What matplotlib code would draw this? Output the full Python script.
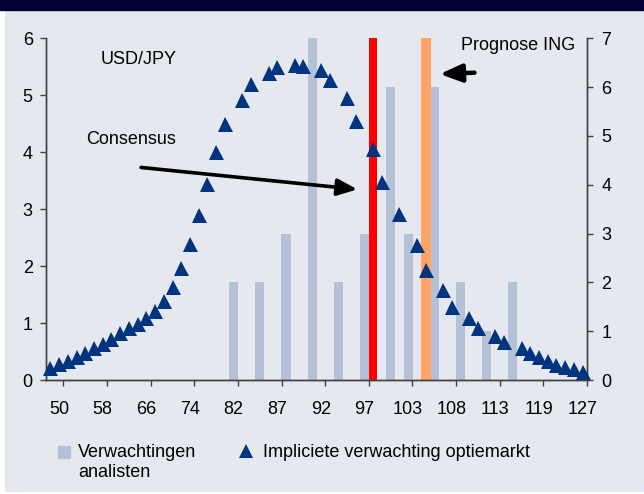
import numpy as np
import matplotlib.pyplot as plt
from matplotlib.patches import Rectangle
from matplotlib.lines import Line2D

plt.rcParams['font.family'] = ['Liberation Sans', 'DejaVu Sans']
plt.rcParams['font.size'] = 13

# category axis: 62 price levels, every 5th one labelled
label_cats = [1, 6, 11, 16, 21, 26, 31, 36, 41, 46, 51, 56, 61]
label_text = ['50', '58', '66', '74', '82', '87', '92', '97', '103', '108', '113', '119', '127']

# analysts' forecasts (right axis)
analyst_cats = [21, 24, 27, 30, 33, 36, 39, 41, 44, 47, 50, 53]
analyst_vals = [2, 2, 3, 7, 2, 3, 6, 3, 6, 2, 1, 2]

# consensus and ING forecast markers (right axis, full height)
consensus_cat = 37
ing_cat = 43
marker_height = 7

# implied distribution from option market (left axis), None where analyst bars sit
implied = [0.21, 0.28, 0.34, 0.40, 0.47, 0.56, 0.64, 0.72, 0.82, 0.91,
           0.99, 1.09, 1.22, 1.39, 1.64, 1.96, 2.39, 2.89, 3.45, 4.01,
           4.50, None, 4.91, 5.20, None, 5.39, 5.49, None, 5.53, 5.51,
           None, 5.44, 5.26, None, 4.96, 4.55, None, 4.05, 3.48, None,
           2.91, None, 2.37, 1.93, None, 1.58, 1.29, None, 1.08, 0.91,
           None, 0.78, 0.67, None, 0.56, 0.47, 0.40, 0.33, 0.27, 0.23,
           0.19, 0.14]

BG = '#E5E8EE'
NAVY = '#003380'
BAR = '#B4C1D7'
SPINE = '#404040'

W, H = 644, 494
fig = plt.figure(figsize=(W / 100, H / 100), dpi=100)
fig.patch.set_facecolor('white')

def fx(x):
    return x / W

def fy(y):
    return 1 - y / H

# panel background and dark title band
fig.patches.append(Rectangle((fx(5), fy(491)), 1 - fx(5), fy(10) - fy(491),
                             transform=fig.transFigure, color=BG, zorder=-2))
fig.patches.append(Rectangle((0, fy(10)), 1, 1 - fy(10),
                             transform=fig.transFigure, color='#000033', zorder=-2))

ax = fig.add_axes([fx(46), fy(380), fx(587) - fx(46), fy(38.3) - fy(380)])
ax2 = ax.twinx()
ax2.set_zorder(1)
ax.set_zorder(2)
ax.patch.set_visible(False)
ax2.patch.set_visible(False)

ax2.bar(analyst_cats, analyst_vals, width=1.05, color=BAR, zorder=1)
ax2.bar([consensus_cat], [marker_height], width=0.86, color='#FF0000', zorder=2)
ax2.bar([ing_cat], [marker_height], width=1.15, color='#FFA366', zorder=2)

cats = np.arange(len(implied))
vals = np.array([np.nan if v is None else v for v in implied])
ax.plot(cats, vals, linestyle='none', marker='^', markersize=10.8,
        color=NAVY, markeredgewidth=0, clip_on=False, zorder=3)

for a in (ax, ax2):
    a.set_xlim(-0.5, len(implied) - 0.5)
    a.spines['top'].set_visible(False)
    for s in ('left', 'right', 'bottom'):
        a.spines[s].set_color(SPINE)
        a.spines[s].set_linewidth(1)

ax.set_ylim(0, 6)
ax2.set_ylim(0, 7)
ax.set_yticks(range(0, 7))
ax2.set_yticks(range(0, 8))
ax.tick_params(axis='y', direction='out', length=4, width=1, color=SPINE, pad=5.5)
ax2.tick_params(axis='y', direction='out', length=4, width=1, color=SPINE, pad=6.5)

# tick marks between categories, labels on the categories
ax.set_xticks([c + 0.5 for c in label_cats])
ax.set_xticklabels([])
ax.set_xticks(label_cats, minor=True)
ax.set_xticklabels(label_text, minor=True)
ax.tick_params(axis='x', which='major', direction='out', length=4, width=1, color=SPINE)
ax.tick_params(axis='x', which='minor', length=0, pad=15)
ax2.tick_params(axis='x', which='both', length=0, labelbottom=False)

ax.text(0.1717, 0.9365, 'USD/JPY', transform=ax.transAxes, ha='center', va='center')
ax.text(0.1575, 0.7024, 'Consensus', transform=ax.transAxes, ha='center', va='center')
ax.text(0.8725, 0.980, 'Prognose ING', transform=ax.transAxes, ha='center', va='center')

ax.annotate('', xy=(0.5754, 0.558), xytext=(0.1758, 0.622),
            xycoords='axes fraction', textcoords='axes fraction',
            arrowprops=dict(arrowstyle='-|>,head_length=1.0,head_width=0.42',
                            mutation_scale=12, lw=2.6, color='black',
                            shrinkA=0, shrinkB=0), zorder=5)
ax.annotate('', xy=(0.7279, 0.8955), xytext=(0.792, 0.8993),
            xycoords='axes fraction', textcoords='axes fraction',
            arrowprops=dict(arrowstyle='-|>,head_length=1.1,head_width=0.45',
                            mutation_scale=12, lw=3.2, color='black',
                            shrinkA=0, shrinkB=0), zorder=5)

# legend below the chart
fig.patches.append(Rectangle((fx(57.5), fy(458)), fx(12.5), fy(446) - fy(458),
                             transform=fig.transFigure, color=BAR, zorder=2))
fig.text(fx(78), fy(452), 'Verwachtingen', ha='left', va='center')
fig.text(fx(78), fy(472), 'analisten', ha='left', va='center')
fig.lines.append(Line2D([fx(245.5)], [fy(451)], marker='^', markersize=10,
                        color=NAVY, markeredgewidth=0, transform=fig.transFigure))
fig.text(fx(263), fy(452), 'Impliciete verwachting optiemarkt', ha='left', va='center')

fig.savefig('out.png', dpi=100, facecolor=fig.get_facecolor())
